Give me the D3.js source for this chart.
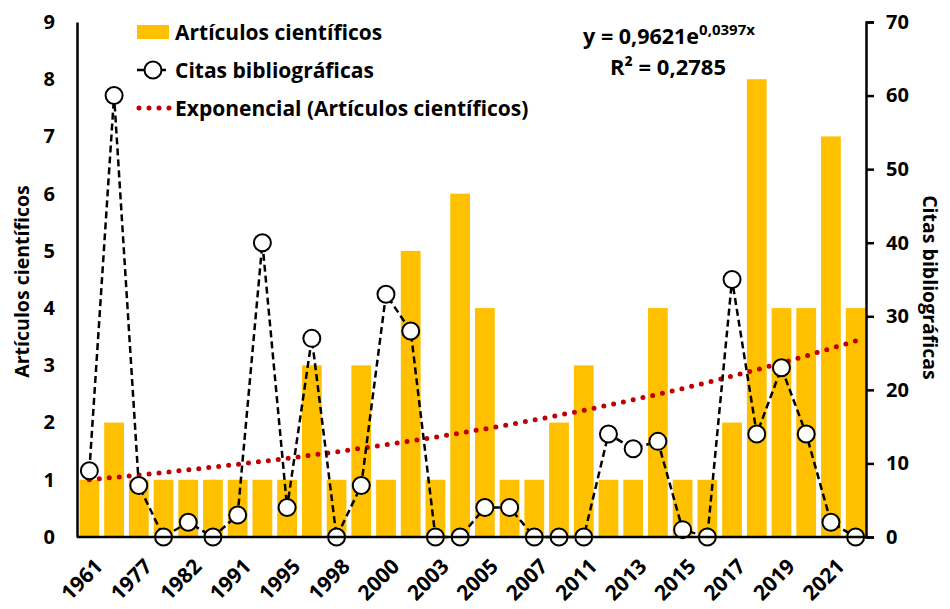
<!DOCTYPE html>
<html>
<head>
<meta charset="utf-8">
<script src="https://cdn.jsdelivr.net/npm/d3@7"></script>
<style>
  html, body { margin: 0; padding: 0; background: #fff; }
  svg { display: block; font-family: "Open Sans", sans-serif; font-weight: 700; }
</style>
</head>
<body>
<svg id="chart" width="950" height="609"></svg>
<script>
// ---- data ----
const years = ["1961","1970","1977","1979","1982","1985","1991","1993","1995","1996","1998","1999","2000","2001","2003","2004",
               "2005","2006","2007","2009","2011","2012","2013","2014","2015","2016","2017","2018","2019","2020","2021","2022"];
const articulos = [1,2,1,1,1,1,1,1,1,3,1,3,1,5,1,6,4,1,1,2,3,1,1,4,1,1,2,8,4,4,7,4];
const citas = [9,60,7,0,2,0,3,40,4,27,0,7,33,28,0,0,4,4,0,0,0,14,12,13,1,0,35,14,23,14,2,0];
const leftTicks = [0,1,2,3,4,5,6,7,8,9];
const rightTicks = [0,10,20,30,40,50,60,70];
const trendA = 0.9621, trendB = 0.0397;
const legendLabels = ["Artículos científicos", "Citas bibliográficas", "Exponencial (Artículos científicos)"];
const eqText = "y = 0,9621e", eqSup = "0,0397x", r2Text = "R² = 0,2785";
const yTitleLeft = "Artículos científicos", yTitleRight = "Citas bibliográficas";

// ---- layout ----
const W = 950, H = 609;
const m = {left: 77, right: 82, top: 22, bottom: 72};
const FONT = "'Open Sans', sans-serif";
const svg = d3.select("#chart");

const x = d3.scaleBand().domain(years).range([m.left, W - m.right]).paddingInner(0.2).paddingOuter(0.1);
const yL = d3.scaleLinear().domain([0, 9]).range([H - m.bottom, m.top]);
const yR = d3.scaleLinear().domain([0, 70]).range([H - m.bottom, m.top]);
const cx = d => x(d) + x.bandwidth() / 2;

// bars
svg.append("g").selectAll("rect").data(years).join("rect")
  .attr("x", d => x(d)).attr("width", x.bandwidth())
  .attr("y", (d, i) => yL(articulos[i]))
  .attr("height", (d, i) => yL(0) - yL(articulos[i]))
  .attr("fill", "#FFC000");

// trend line
const trendPts = years.map((d, i) => [cx(d), yL(trendA * Math.exp(trendB * (i + 1)))]);
svg.append("path").attr("d", d3.line()(trendPts))
  .attr("fill", "none").attr("stroke", "#C00000").attr("stroke-width", 5)
  .attr("stroke-linecap", "round").attr("stroke-dasharray", "0,10");

// citas line
const linePts = years.map((d, i) => [cx(d), yR(citas[i])]);
svg.append("path").attr("d", d3.line()(linePts))
  .attr("fill", "none").attr("stroke", "#000").attr("stroke-width", 2.5)
  .attr("stroke-dasharray", "7,4");
svg.append("g").selectAll("circle").data(linePts).join("circle")
  .attr("cx", d => d[0]).attr("cy", d => d[1]).attr("r", 8.5)
  .attr("fill", "#fff").attr("stroke", "#000").attr("stroke-width", 2);

// axes
const axisFont = 20;
function styleText(g, size) {
  g.selectAll("text").attr("font-size", size).attr("font-weight", 700).attr("font-family", FONT).attr("fill", "#000");
}
const gx = svg.append("g").attr("transform", `translate(0,${H - m.bottom})`)
  .call(d3.axisBottom(x).tickValues(years.filter((d, i) => i % 2 === 0)).tickSize(0).tickSizeOuter(0));
gx.select(".domain").attr("stroke", "#000").attr("stroke-width", 2.5)
  .attr("d", `M${m.left},0H${W - m.right}`);
styleText(gx, 21);
gx.selectAll("text")
  .attr("x", 0).attr("y", 0).attr("dy", "0.72em")
  .attr("text-anchor", "end")
  .attr("transform", "translate(4,20) rotate(-45)");

const gl = svg.append("g").attr("transform", `translate(${m.left},0)`)
  .call(d3.axisLeft(yL).tickValues(leftTicks).tickSize(0).tickPadding(22).tickFormat(d3.format("d")));
gl.select(".domain").attr("stroke", "#000").attr("stroke-width", 2.5);
styleText(gl, axisFont);

const gr = svg.append("g").attr("transform", `translate(${W - m.right - 2},0)`)
  .call(d3.axisRight(yR).tickValues(rightTicks).tickSize(8).tickSizeOuter(8).tickPadding(12).tickFormat(d3.format("d")));
gr.select(".domain").attr("stroke", "#000").attr("stroke-width", 2.5);
gr.selectAll(".tick line").attr("stroke", "#000").attr("stroke-width", 2.5);
styleText(gr, axisFont);

// axis titles
svg.append("text").attr("transform", `translate(29,${(m.top + H - m.bottom) / 2 + 2}) rotate(-90)`)
  .attr("text-anchor", "middle").attr("font-size", 19.5).text(yTitleLeft);
svg.append("text").attr("transform", `translate(923,${(m.top + H - m.bottom) / 2 + 8}) rotate(90)`)
  .attr("text-anchor", "middle").attr("font-size", 19.5).text(yTitleRight);

// legend
const lg = svg.append("g");
const lx = 137, ly = [32, 70, 108];
lg.append("rect").attr("x", lx).attr("y", ly[0] - 7).attr("width", 32).attr("height", 14).attr("fill", "#FFC000");
lg.append("path").attr("d", `M${lx},${ly[1]}H${lx + 32}`).attr("stroke", "#000").attr("stroke-width", 2.5).attr("stroke-dasharray", "7,4");
lg.append("circle").attr("cx", lx + 16).attr("cy", ly[1]).attr("r", 8.5).attr("fill", "#fff").attr("stroke", "#000").attr("stroke-width", 2);
lg.append("path").attr("d", `M${lx + 2},${ly[2]}H${lx + 33}`).attr("stroke", "#C00000").attr("stroke-width", 5)
  .attr("stroke-linecap", "round").attr("stroke-dasharray", "0,10");
legendLabels.forEach((t, i) => {
  lg.append("text").attr("x", lx + 38).attr("y", ly[i]).attr("dy", "0.36em").attr("font-size", 21).text(t);
});

// equation
const eq = svg.append("text").attr("x", 669).attr("y", 44).attr("text-anchor", "middle").attr("font-size", 21.5);
eq.append("tspan").text(eqText);
eq.append("tspan").attr("font-size", 15).attr("dy", -9).text(eqSup);
svg.append("text").attr("x", 668).attr("y", 75).attr("text-anchor", "middle").attr("font-size", 22).text(r2Text);
</script>
</body>
</html>
